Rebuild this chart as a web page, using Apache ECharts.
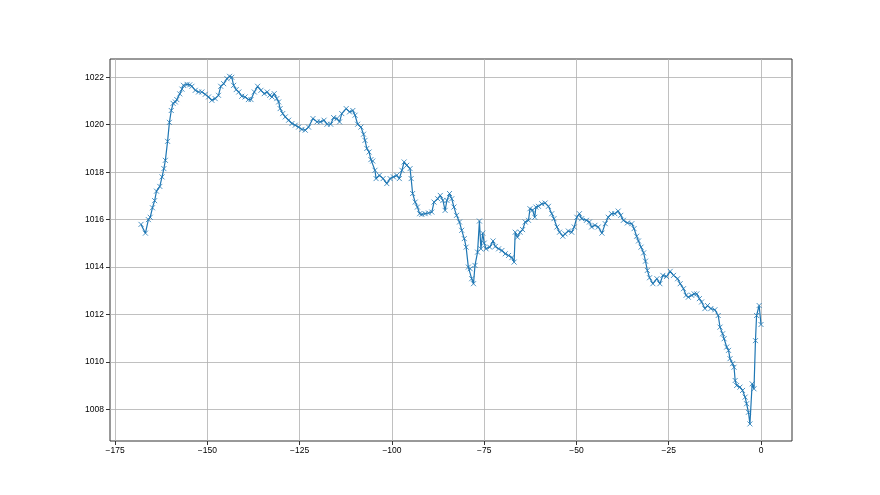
<!DOCTYPE html>
<html>
<head>
<meta charset="utf-8">
<script src="https://cdn.jsdelivr.net/npm/echarts@6/dist/echarts.min.js"></script>
<style>
  html, body { margin: 0; padding: 0; background: #fff; }
  #chart { width: 880px; height: 495px; }
</style>
</head>
<body>
<div id="chart"></div>
<script>
// hours relative to now, and pressure readings (hPa)
const hours = [
  -168, -166.8, -166.0, -165.5, -164.9, -164.3, -163.8, -162.9, -162.3, -161.8,
  -161.4, -160.8, -160.3, -159.8, -159.3, -158.7, -158.3, -157.5, -156.9, -156.5,
  -155.5, -154.8, -154.2, -153.3, -152.4, -151.5, -150.6, -149.7, -148.8, -147.9,
  -147.0, -146.4, -145.6, -144.7, -144.0, -143.4, -142.9, -142.2, -141.5, -140.7,
  -139.8, -138.9, -138.2, -137.3, -136.4, -135.5, -134.6, -133.8, -133.1, -132.5,
  -131.9, -131.2, -130.7, -130.3, -129.6, -128.9, -128.0, -127.1, -126.2, -125.3,
  -124.4, -123.5, -122.6, -121.4, -120.3, -119.4, -118.4, -117.6, -116.6, -115.8,
  -114.9, -114.2, -113.6, -112.4, -111.5, -110.6, -110.0, -109.3, -108.4, -107.7,
  -107.3, -106.8, -106.2, -105.7, -105.2, -104.6, -104.3, -103.4, -102.4, -101.4,
  -100.5, -99.6, -98.7, -98.0, -97.3, -96.7, -96.0, -95.1, -94.8, -94.4,
  -93.7, -93.1, -92.5, -91.9, -91.0, -90.1, -89.2, -88.6, -87.6, -86.9,
  -86.2, -85.6, -85.1, -84.4, -83.8, -83.2, -82.5, -81.7, -81.1, -80.4,
  -79.9, -79.3, -78.8, -78.4, -77.9, -77.5, -76.8, -76.3, -75.9, -75.4,
  -75.0, -74.5, -73.5, -72.6, -72.0, -71.1, -70.2, -69.3, -68.4, -67.5,
  -66.9, -66.6, -66.0, -65.3, -64.6, -63.9, -63.0, -62.6, -61.9, -61.3,
  -61.0, -60.3, -59.4, -58.5, -57.6, -56.7, -56.1, -55.3, -54.6, -53.7,
  -53.1, -52.2, -51.3, -50.6, -49.9, -49.2, -48.6, -47.3, -46.5, -45.9,
  -45.0, -44.1, -43.1, -42.2, -41.4, -40.5, -39.6, -38.7, -38.0, -37.3,
  -36.2, -35.0, -34.4, -33.7, -33.2, -32.5, -31.8, -31.3, -30.8, -30.2,
  -29.3, -28.2, -27.4, -26.6, -25.6, -24.6, -23.7, -22.6, -21.9, -21.0,
  -20.3, -19.7, -18.8, -18.1, -17.4, -16.7, -16.1, -15.2, -14.5, -13.6,
  -12.5, -11.6, -11.1, -10.4, -10.0, -9.3, -8.8, -8.4, -7.7, -7.3,
  -7.0, -6.6, -5.7, -5.0, -4.3, -3.9, -3.4, -3.0, -2.4, -1.9,
  -1.5, -1.2, -0.5, 0.0
];
const pressure = [
  1015.8, 1015.43, 1016.0, 1016.1, 1016.5, 1016.8, 1017.2, 1017.4, 1017.8, 1018.15,
  1018.5, 1019.3, 1020.1, 1020.6, 1020.9, 1020.96, 1021.06, 1021.3, 1021.5, 1021.66,
  1021.7, 1021.68, 1021.62, 1021.45, 1021.38, 1021.38, 1021.28, 1021.17, 1021.03, 1021.1,
  1021.24, 1021.62, 1021.73, 1021.94, 1022.04, 1022.0, 1021.66, 1021.48, 1021.38, 1021.2,
  1021.17, 1021.06, 1021.06, 1021.38, 1021.62, 1021.45, 1021.31, 1021.38, 1021.24, 1021.17,
  1021.31, 1021.1, 1020.96, 1020.68, 1020.47, 1020.33, 1020.19, 1020.05, 1019.98, 1019.9,
  1019.8, 1019.77, 1019.9, 1020.26, 1020.12, 1020.12, 1020.19, 1020.02, 1020.02, 1020.3,
  1020.26, 1020.12, 1020.47, 1020.68, 1020.54, 1020.6, 1020.4, 1020.02, 1019.9, 1019.6,
  1019.34, 1019.0, 1018.85, 1018.53, 1018.47, 1018.08, 1017.73, 1017.87, 1017.73, 1017.52,
  1017.73, 1017.8, 1017.87, 1017.73, 1018.08, 1018.43, 1018.29, 1018.15, 1017.73, 1017.1,
  1016.74, 1016.53, 1016.25, 1016.22, 1016.25, 1016.28, 1016.32, 1016.74, 1016.88, 1017.02,
  1016.81, 1016.39, 1016.81, 1017.1, 1016.88, 1016.53, 1016.18, 1015.9, 1015.55, 1015.2,
  1014.84, 1014.0, 1013.93, 1013.51, 1013.3, 1014.07, 1014.63, 1015.94, 1014.77, 1015.43,
  1015.01, 1014.77, 1014.84, 1015.1, 1014.87, 1014.77, 1014.7, 1014.56, 1014.49, 1014.4,
  1014.21, 1015.47, 1015.26, 1015.47, 1015.58, 1015.9, 1015.97, 1016.46, 1016.4, 1016.1,
  1016.53, 1016.56, 1016.67, 1016.7, 1016.56, 1016.25, 1016.04, 1015.69, 1015.47, 1015.3,
  1015.4, 1015.52, 1015.47, 1015.69, 1016.1, 1016.25, 1016.04, 1015.97, 1015.9, 1015.69,
  1015.76, 1015.69, 1015.43, 1015.83, 1016.1, 1016.25, 1016.25, 1016.36, 1016.18, 1015.97,
  1015.86, 1015.83, 1015.62, 1015.3, 1015.1, 1014.84, 1014.6, 1014.25, 1013.86, 1013.55,
  1013.3, 1013.51, 1013.3, 1013.65, 1013.6, 1013.82, 1013.65, 1013.51, 1013.3, 1013.09,
  1012.81, 1012.73, 1012.81, 1012.87, 1012.87, 1012.67, 1012.53, 1012.25, 1012.38, 1012.25,
  1012.2, 1011.96, 1011.47, 1011.19, 1010.98, 1010.63, 1010.49, 1010.14, 1009.93, 1009.78,
  1009.22, 1009.01, 1008.94, 1008.8, 1008.52, 1008.24, 1007.88, 1007.39, 1009.08, 1008.87,
  1010.9, 1011.96, 1012.38, 1011.58
];
const xTicks = [-175, -150, -125, -100, -75, -50, -25, 0];
const yTicks = [1008, 1010, 1012, 1014, 1016, 1018, 1020, 1022];

const chart = echarts.init(document.getElementById('chart'));

const font = { fontFamily: 'Liberation Sans', fontSize: 8.5, color: '#000' };
// matplotlib style minus sign
const fmt = v => String(v).replace('-', '\u2212');

chart.setOption({
    animation: false,
    grid: {
        left: 110, right: 88, top: 59, bottom: 54,
        show: true,
        borderColor: '#333',
        borderWidth: 1
    },
    xAxis: {
        type: 'value',
        min: -176.4,
        max: 8.4,
        axisLine: { show: false, onZero: false },
        axisTick: {
            show: true,
            customValues: xTicks,
            length: 4,
            lineStyle: { color: '#333' }
        },
        axisLabel: Object.assign({ customValues: xTicks, margin: 5, formatter: fmt }, font),
        splitLine: { show: true, lineStyle: { color: '#b0b0b0', width: 0.8 } }
    },
    yAxis: {
        type: 'value',
        min: 1006.67,
        max: 1022.77,
        axisLine: { show: false, onZero: false },
        axisTick: {
            show: true,
            customValues: yTicks,
            length: 4,
            lineStyle: { color: '#333' }
        },
        axisLabel: Object.assign({ customValues: yTicks, margin: 6, formatter: fmt }, font),
        splitLine: { show: true, lineStyle: { color: '#b0b0b0', width: 0.8 } }
    },
    series: [{
        type: 'line',
        data: hours.map((h, i) => [h, pressure[i]]),
        symbol: 'path://M0,0L10,10M10,0L0,10',
        symbolSize: 5,
        showAllSymbol: true,
        lineStyle: { color: '#1f77b4', width: 1.2 },
        itemStyle: { color: '#1f77b4', borderColor: '#1f77b4', borderWidth: 0.8 }
    }]
});
</script>
</body>
</html>
